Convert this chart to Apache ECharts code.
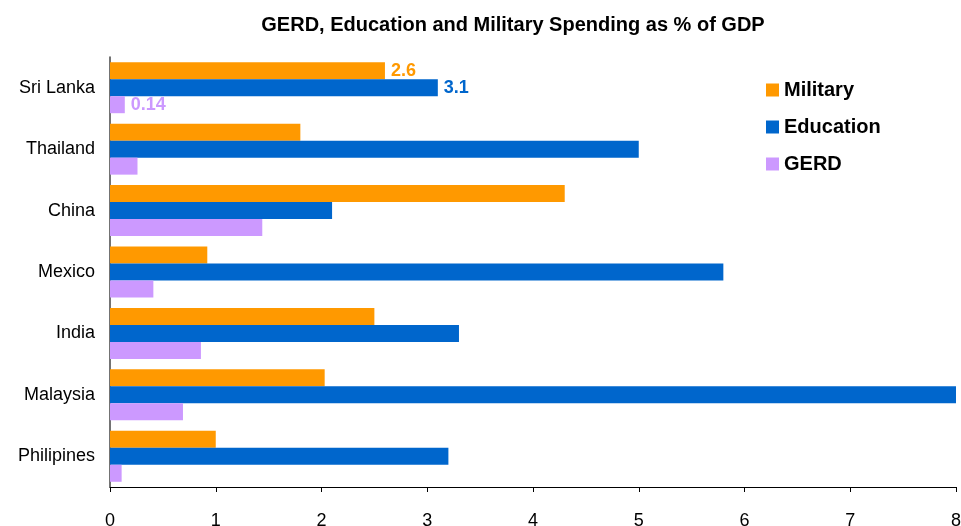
<!DOCTYPE html>
<html lang="en">
<head>
  <meta charset="UTF-8">
  <title>GERD, Education and Military Spending</title>
  <script src="https://cdn.jsdelivr.net/npm/echarts@6/dist/echarts.min.js"></script>
  <style>
    html, body { margin: 0; padding: 0; background: #fff; }
    #main { width: 961px; height: 526px; }
  </style>
</head>
<body>
  <div id="main"></div>
  <script>
    // data
    var countries = ['Sri Lanka', 'Thailand', 'China', 'Mexico', 'India', 'Malaysia', 'Philipines'];
    var military  = [2.6, 1.8, 4.3, 0.92, 2.5, 2.03, 1.0];
    var education = [3.1, 5.0, 2.1, 5.8, 3.3, 8.0, 3.2];
    var gerd      = [0.14, 0.26, 1.44, 0.41, 0.86, 0.69, 0.11];
    var xTicks    = [0, 1, 2, 3, 4, 5, 6, 7, 8];

    var colors = { Military: '#FF9900', Education: '#0066CC', GERD: '#CC99FF' };
    var font = 'Liberation Sans, Arial, sans-serif';

    // only the first country gets value labels
    function withFirstLabel(values, color) {
      return values.map(function (v, i) {
        if (i !== 0) return v;
        return {
          value: v,
          label: {
            show: true, position: 'right', distance: 6,
            color: color, fontWeight: 'bold', fontSize: 18, fontFamily: font
          }
        };
      });
    }

    var chart = echarts.init(document.getElementById('main'));
    chart.setOption({
      animation: false,
      title: {
        text: 'GERD, Education and Military Spending as % of GDP',
        left: 508, top: 10, textAlign: 'center',
        textStyle: { fontSize: 20, fontWeight: 'bold', color: '#000', fontFamily: font }
      },
      legend: {
        orient: 'vertical',
        left: 761, top: 75,
        itemGap: 17,
        itemWidth: 13, itemHeight: 13,
        icon: 'rect',
        textStyle: { fontSize: 20, fontWeight: 'bold', color: '#000', fontFamily: font },
        data: ['Military', 'Education', 'GERD']
      },
      grid: { left: 110, right: 5, top: 57, bottom: 39, outerBoundsMode: 'none' },
      xAxis: {
        type: 'value',
        min: xTicks[0], max: xTicks[xTicks.length - 1], interval: 1,
        axisLine: { show: true, lineStyle: { color: '#000', width: 1 } },
        axisTick: { show: true, length: 5, lineStyle: { color: '#000' } },
        splitLine: { show: false },
        axisLabel: { fontSize: 18, color: '#000', margin: 25, fontFamily: font }
      },
      yAxis: {
        type: 'category',
        inverse: true,
        data: countries,
        axisLine: { show: true, lineStyle: { color: '#444', width: 1.5 } },
        axisTick: { show: false },
        axisLabel: { fontSize: 18, color: '#000', margin: 15, fontFamily: font }
      },
      series: [
        { name: 'Military', type: 'bar', data: withFirstLabel(military, colors.Military),
          itemStyle: { color: colors.Military }, barGap: '0%', barCategoryGap: '17%' },
        { name: 'Education', type: 'bar', data: withFirstLabel(education, colors.Education),
          itemStyle: { color: colors.Education } },
        { name: 'GERD', type: 'bar', data: withFirstLabel(gerd, colors.GERD),
          itemStyle: { color: colors.GERD } }
      ]
    });
  </script>
</body>
</html>
